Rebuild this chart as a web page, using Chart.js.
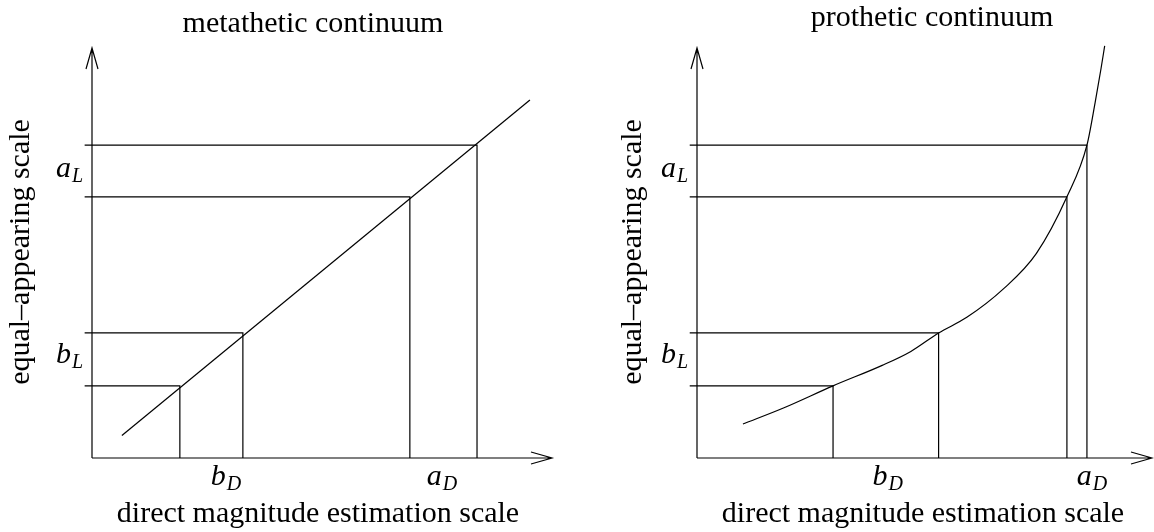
<!DOCTYPE html>
<html>
<head>
<meta charset="utf-8">
<title>metathetic vs prothetic continuum</title>
<script src="https://cdn.jsdelivr.net/npm/chart.js@4/dist/chart.umd.min.js"></script>
<style>
  body { margin: 0; background: #fff; }
  .panel { position: absolute; top: 0; width: 577px; height: 532px; }
</style>
</head>
<body>
<div class="panel" style="left:0"><canvas id="metaChart" width="577" height="532"></canvas></div>
<div class="panel" style="left:577px"><canvas id="prothChart" width="577" height="532"></canvas></div>
<script>
// metathetic panel: stimulus pairs read on both scales
const metaDX = [19.1, 32.8, 69.1, 83.7];      // direct magnitude estimation values
const metaLY = [17.6, 30.5, 63.7, 76.3];      // equal-appearing values
const metaLine = [{ x: 6.5, y: 5.5 }, { x: 95.2, y: 87.3 }];

// prothetic panel
const prothDX = [29.9, 53.1, 81.3, 85.7];
const prothLY = [17.6, 30.5, 63.7, 76.3];
const prothCurve = [
    { x: 10.1, y: 8.3 }, { x: 19.0, y: 12.2 }, { x: 29.9, y: 17.6 }, { x: 40.7, y: 22.6 },
    { x: 47.0, y: 26.0 }, { x: 53.1, y: 30.5 }, { x: 59.3, y: 34.3 }, { x: 67.4, y: 41.3 },
    { x: 74.6, y: 49.9 }, { x: 81.3, y: 63.7 }, { x: 85.7, y: 76.3 }, { x: 87.5, y: 86.7 },
    { x: 88.8, y: 95.0 }, { x: 89.6, y: 100.5 }
];

// tick labels (base letter + subscript) and where they sit on each axis
const yTickText = ['b', 'a'];
const yTickSub = 'L';
const yTickAt = [23.2, 68.5];
const xTickText = ['b', 'a'];
const xTickSub = 'D';
const metaXTickAt = [29.1, 76.1];
const prothXTickAt = [41.9, 86.8];

const xTitle = 'direct magnitude estimation scale';
const yTitle = 'equal\u2013appearing scale';

const INK = '#000';
const TICK_OVERHANG = -1.6;

// horizontal line from the y axis to the curve, then down to the x axis
function guides(dx, ly) {
    return dx.map((x, i) => ({
        data: [{ x: TICK_OVERHANG, y: ly[i] }, { x: x, y: ly[i] }, { x: x, y: 0 }],
        borderColor: INK,
        borderWidth: 1.2,
        pointRadius: 0,
        tension: 0,
        clip: false,
    }));
}

function mathLabel(ctx, base, sub, x, y, align) {
    ctx.font = 'italic 30px "Liberation Serif"';
    const wb = ctx.measureText(base).width;
    ctx.font = 'italic 20px "Liberation Serif"';
    const ws = ctx.measureText(sub).width;
    let left = x;
    if (align === 'center') left = x - (wb + ws + 1) / 2;
    ctx.textAlign = 'left';
    ctx.textBaseline = 'alphabetic';
    ctx.font = 'italic 30px "Liberation Serif"';
    ctx.fillText(base, left, y);
    ctx.font = 'italic 20px "Liberation Serif"';
    ctx.fillText(sub, left + wb + 1, y + 5);
}

// axes with open arrowheads, titles and the a/b labels
const decor = {
    id: 'decor',
    afterDatasetsDraw(chart, args, opts) {
        const { ctx, chartArea: a, scales: { x, y } } = chart;
        const x0 = x.getPixelForValue(0);
        const y0 = y.getPixelForValue(0);
        ctx.save();
        ctx.strokeStyle = INK;
        ctx.lineWidth = 1.2;
        ctx.beginPath();
        ctx.moveTo(x0, y0); ctx.lineTo(a.right, y0);
        ctx.moveTo(x0, y0); ctx.lineTo(x0, a.top);
        ctx.moveTo(a.right - 21, y0 - 6); ctx.lineTo(a.right, y0); ctx.lineTo(a.right - 21, y0 + 6);
        ctx.moveTo(x0 - 6, a.top + 21); ctx.lineTo(x0, a.top); ctx.lineTo(x0 + 6, a.top + 21);
        ctx.stroke();

        ctx.fillStyle = INK;
        ctx.font = '30px "Liberation Serif"';
        ctx.textAlign = 'center';
        ctx.textBaseline = 'alphabetic';
        ctx.fillText(opts.title, opts.titleX, opts.titleY);
        ctx.fillText(xTitle, opts.xTitleX, 522);

        ctx.save();
        ctx.translate(opts.yTitleX, 252);
        ctx.rotate(-Math.PI / 2);
        ctx.textBaseline = 'middle';
        ctx.fillText(yTitle, 0, 0);
        ctx.restore();

        yTickText.forEach((t, i) => mathLabel(ctx, t, yTickSub, x0 - 36, y.getPixelForValue(yTickAt[i]), 'left'));
        xTickText.forEach((t, i) => mathLabel(ctx, t, xTickSub, x.getPixelForValue(opts.xTickAt[i]), y0 + 27, 'center'));
        ctx.restore();
    }
};

function makeChart(id, mainData, mainOpts, dx, ly, pad, decorOpts) {
    const ctx = document.getElementById(id).getContext('2d');
    return new Chart(ctx, {
        type: 'line',
        data: {
            datasets: [
                Object.assign({
                    data: mainData,
                    borderColor: INK,
                    borderWidth: 1.2,
                    pointRadius: 0,
                    clip: false,
                }, mainOpts),
                ...guides(dx, ly),
            ],
        },
        options: {
            responsive: false,
            animation: false,
            layout: { padding: pad },
            scales: {
                x: { type: 'linear', min: 0, max: 100, display: false },
                y: { type: 'linear', min: 0, max: 100, display: false },
            },
            plugins: {
                legend: { display: false },
                tooltip: { enabled: false },
                decor: decorOpts,
            },
        },
        plugins: [decor],
    });
}

makeChart('metaChart', metaLine, { tension: 0 }, metaDX, metaLY,
    { left: 92, right: 25, top: 48, bottom: 74 },
    { title: 'metathetic continuum', titleX: 313, titleY: 32, xTitleX: 318, yTitleX: 21, xTickAt: metaXTickAt });

makeChart('prothChart', prothCurve, { cubicInterpolationMode: 'monotone' }, prothDX, prothLY,
    { left: 120, right: 2, top: 48, bottom: 74 },
    { title: 'prothetic continuum', titleX: 355, titleY: 26, xTitleX: 346, yTitleX: 56, xTickAt: prothXTickAt });
</script>
</body>
</html>
